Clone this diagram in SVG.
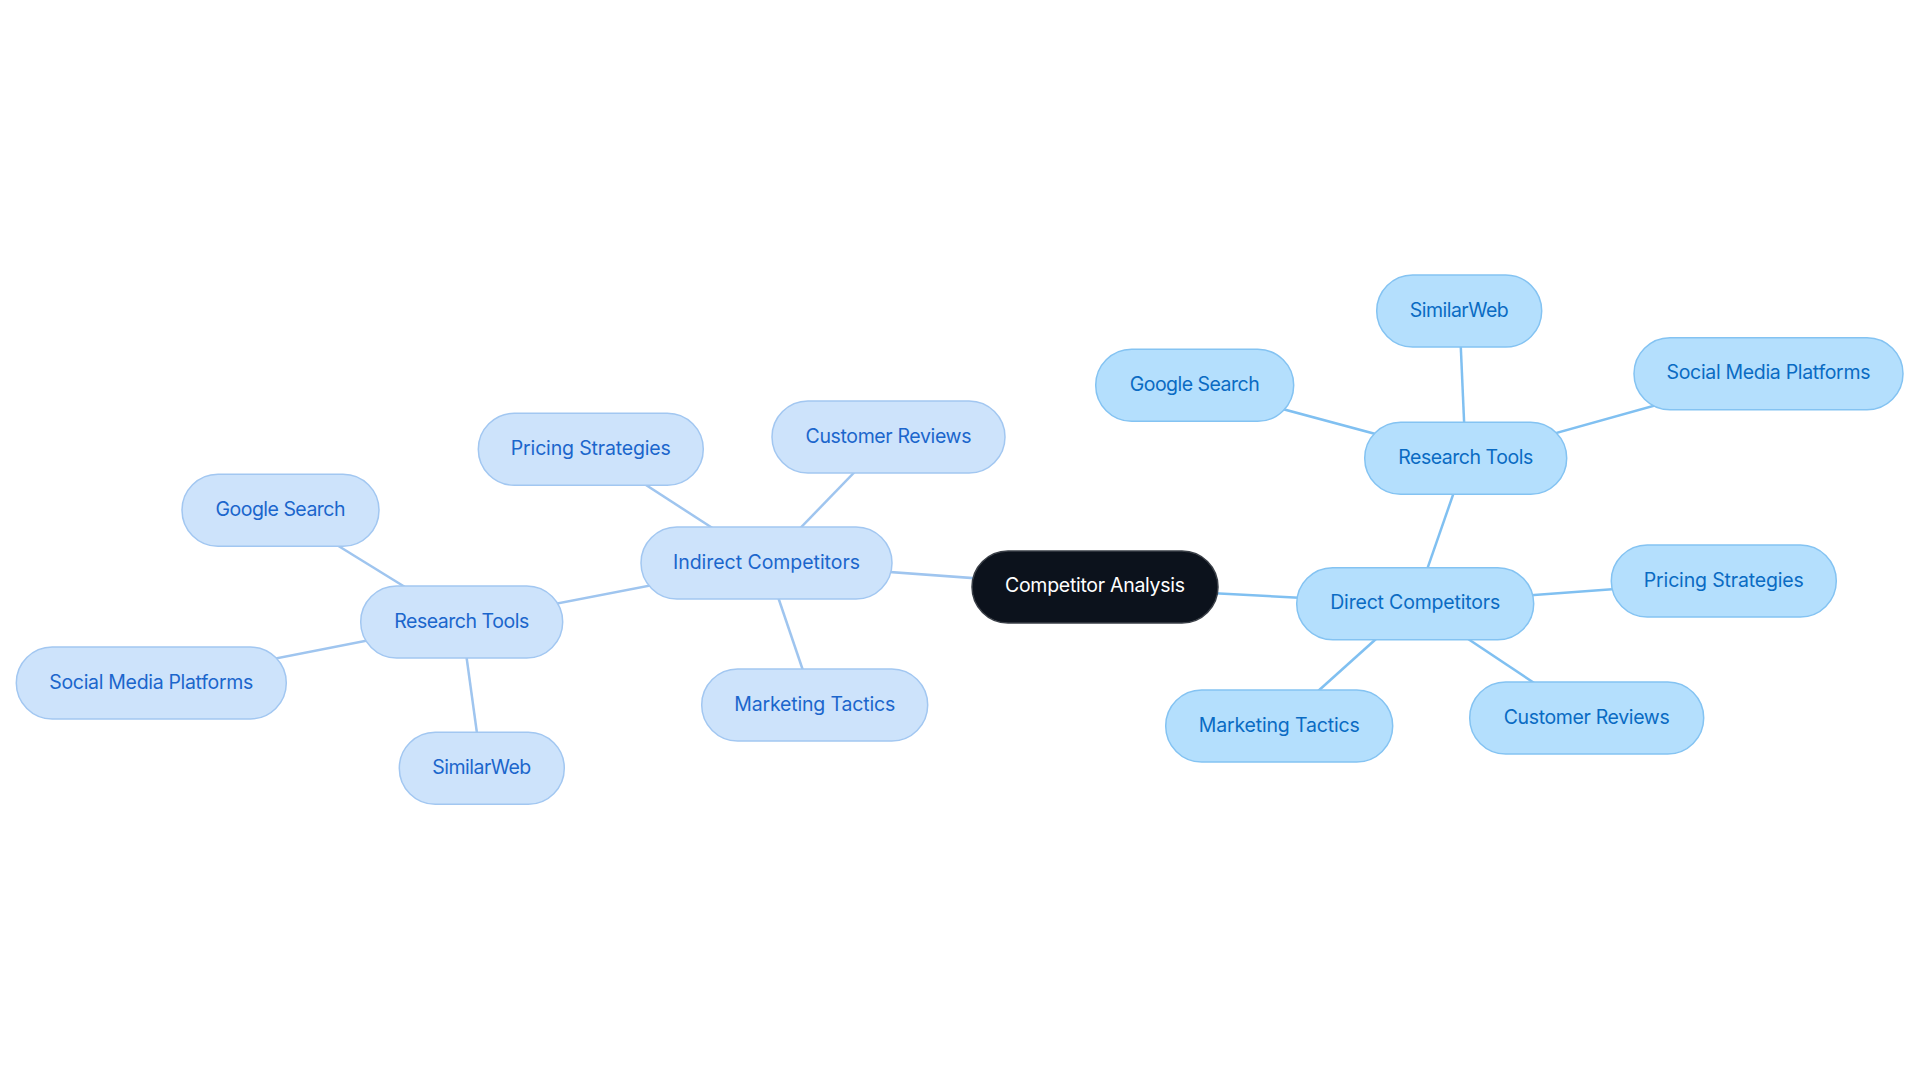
<svg xmlns="http://www.w3.org/2000/svg" width="1920" height="1083" viewBox="0 0 1920 1083">
<style>
.bg{fill:#ffffff}
.root rect{fill:#0c121c;stroke:#3a3f47;stroke-width:1.5}
.root text{fill:#ffffff}
.l rect{fill:#cde3fb;stroke:#a2c7f1;stroke-width:1.5}
.l text{fill:#1b66cc}
.r rect{fill:#b4dffd;stroke:#84c3f2;stroke-width:1.5}
.r text{fill:#0a6bc3}
text{font-family:Inter,"Noto Sans","Liberation Sans",sans-serif;font-size:19.5px;text-anchor:middle}
.el{stroke:#9fc5ef;stroke-width:2.5;fill:none}
.er{stroke:#80c0f1;stroke-width:2.5;fill:none}
</style>
<rect class="bg" x="0" y="0" width="1920" height="1083"/>
<g id="connectors">
<line class="el" x1="1095" y1="587" x2="766.5" y2="563"/>
<line class="el" x1="766.5" y1="563" x2="590.8" y2="449.3"/>
<line class="el" x1="766.5" y1="563" x2="888.5" y2="437"/>
<line class="el" x1="766.5" y1="563" x2="814.7" y2="705"/>
<line class="el" x1="766.5" y1="563" x2="461.7" y2="622"/>
<line class="el" x1="461.7" y1="622" x2="280.5" y2="510.3"/>
<line class="el" x1="461.7" y1="622" x2="151.3" y2="683"/>
<line class="el" x1="461.7" y1="622" x2="481.8" y2="768.3"/>
<line class="er" x1="1095" y1="587" x2="1415.2" y2="603.7"/>
<line class="er" x1="1415.2" y1="603.7" x2="1465.7" y2="458.3"/>
<line class="er" x1="1415.2" y1="603.7" x2="1723.8" y2="581"/>
<line class="er" x1="1415.2" y1="603.7" x2="1586.7" y2="718"/>
<line class="er" x1="1415.2" y1="603.7" x2="1279.2" y2="726"/>
<line class="er" x1="1465.7" y1="458.3" x2="1194.7" y2="385.3"/>
<line class="er" x1="1465.7" y1="458.3" x2="1459.2" y2="311"/>
<line class="er" x1="1465.7" y1="458.3" x2="1768.5" y2="373.7"/>
</g>
<g id="competitor-analysis" class="root"><rect x="972" y="551" width="246" height="72" rx="36"/><text x="1095" y="592" textLength="180" lengthAdjust="spacing">Competitor Analysis</text></g>
<g id="indirect-competitors" class="l"><rect x="641" y="527" width="251" height="72" rx="36"/><text x="766.5" y="568.5" textLength="187" lengthAdjust="spacing">Indirect Competitors</text></g>
<g id="indirect-pricing-strategies" class="l"><rect x="478.3" y="413.3" width="225" height="72" rx="36"/><text x="590.8" y="454.8" textLength="160" lengthAdjust="spacing">Pricing Strategies</text></g>
<g id="indirect-customer-reviews" class="l"><rect x="772" y="401" width="233" height="72" rx="36"/><text x="888.5" y="442.5" textLength="166" lengthAdjust="spacing">Customer Reviews</text></g>
<g id="indirect-marketing-tactics" class="l"><rect x="701.7" y="669" width="226" height="72" rx="36"/><text x="814.7" y="710.5" textLength="161" lengthAdjust="spacing">Marketing Tactics</text></g>
<g id="indirect-research-tools" class="l"><rect x="360.7" y="586" width="202" height="72" rx="36"/><text x="461.7" y="627.5" textLength="135" lengthAdjust="spacing">Research Tools</text></g>
<g id="indirect-google-search" class="l"><rect x="182" y="474.3" width="197" height="72" rx="36"/><text x="280.5" y="515.8" textLength="130" lengthAdjust="spacing">Google Search</text></g>
<g id="indirect-social-media-platforms" class="l"><rect x="16.3" y="647" width="270" height="72" rx="36"/><text x="151.3" y="688.5" textLength="204" lengthAdjust="spacing">Social Media Platforms</text></g>
<g id="indirect-similarweb" class="l"><rect x="399.3" y="732.3" width="165" height="72" rx="36"/><text x="481.8" y="773.8" textLength="99" lengthAdjust="spacing">SimilarWeb</text></g>
<g id="direct-competitors" class="r"><rect x="1296.7" y="567.7" width="237" height="72" rx="36"/><text x="1415.2" y="609.2" textLength="170" lengthAdjust="spacing">Direct Competitors</text></g>
<g id="direct-research-tools" class="r"><rect x="1364.7" y="422.3" width="202" height="72" rx="36"/><text x="1465.7" y="463.8" textLength="135" lengthAdjust="spacing">Research Tools</text></g>
<g id="direct-google-search" class="r"><rect x="1095.7" y="349.3" width="198" height="72" rx="36"/><text x="1194.7" y="390.8" textLength="130" lengthAdjust="spacing">Google Search</text></g>
<g id="direct-similarweb" class="r"><rect x="1376.7" y="275" width="165" height="72" rx="36"/><text x="1459.2" y="316.5" textLength="99" lengthAdjust="spacing">SimilarWeb</text></g>
<g id="direct-social-media-platforms" class="r"><rect x="1634" y="337.7" width="269" height="72" rx="36"/><text x="1768.5" y="379.2" textLength="204" lengthAdjust="spacing">Social Media Platforms</text></g>
<g id="direct-pricing-strategies" class="r"><rect x="1611.3" y="545" width="225" height="72" rx="36"/><text x="1723.8" y="586.5" textLength="160" lengthAdjust="spacing">Pricing Strategies</text></g>
<g id="direct-customer-reviews" class="r"><rect x="1469.7" y="682" width="234" height="72" rx="36"/><text x="1586.7" y="723.5" textLength="166" lengthAdjust="spacing">Customer Reviews</text></g>
<g id="direct-marketing-tactics" class="r"><rect x="1165.7" y="690" width="227" height="72" rx="36"/><text x="1279.2" y="731.5" textLength="161" lengthAdjust="spacing">Marketing Tactics</text></g>
</svg>
